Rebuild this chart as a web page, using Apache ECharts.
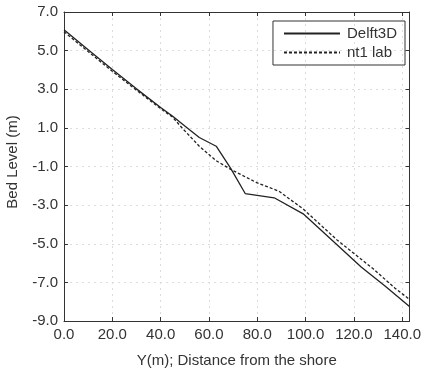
<!DOCTYPE html>
<html>
<head>
<meta charset="utf-8">
<script src="https://cdn.jsdelivr.net/npm/echarts@6/dist/echarts.min.js"></script>
<style>html,body{margin:0;padding:0;background:#fff;}#c{width:424px;height:373px;}</style>
</head>
<body>
<div id="c"></div>
<script>
const xTicks = [0, 20, 40, 60, 80, 100, 120, 140];
const yTicks = [7, 5, 3, 1, -1, -3, -5, -7, -9];
const delft3d = [[0,6.08],[10,5.05],[20,4.02],[30,3.02],[40,2.05],[45,1.6],[50,1.1],[56,0.5],[63,0.05],[69,-1.1],[75,-2.4],[87,-2.62],[99,-3.45],[113,-5.05],[123,-6.2],[133,-7.2],[143,-8.25]];
const nt1lab = [[0,5.98],[10,4.95],[20,3.93],[30,2.95],[40,2.0],[45,1.55],[49,0.98],[56,0.05],[63,-0.7],[69,-1.15],[80,-1.85],[89,-2.28],[99,-3.2],[113,-4.8],[128,-6.3],[137,-7.3],[143,-7.88]];

const font = 'Liberation Sans, Arial, sans-serif';
const chart = echarts.init(document.getElementById('c'));
const axisLine = {show: true, onZero: false, lineStyle: {color: '#333', width: 1}};
const tickIn = {show: true, inside: true, length: 4, lineStyle: {color: '#333'}};
chart.setOption({
  animation: false,
  grid: {left: 64, right: 11, top: 12, bottom: 43, containLabel: false},
  xAxis: [{
    type: 'value', min: 0, max: 143, interval: 20,
    axisLine: axisLine, axisTick: tickIn,
    axisLabel: {color: '#333', fontFamily: font, fontSize: 15, margin: 6, showMaxLabel: false,
      formatter: v => v.toFixed(1)},
    splitLine: {show: true, lineStyle: {color: '#dcdcdc', type: [2, 4], width: 1}},
    name: 'Y(m); Distance from the shore', nameLocation: 'middle', nameGap: 32,
    nameTextStyle: {color: '#333', fontFamily: font, fontSize: 15}
  }, {
    type: 'value', position: 'top', min: 0, max: 143, interval: 20,
    axisLine: axisLine, axisTick: tickIn, axisLabel: {show: false}, splitLine: {show: false}
  }],
  yAxis: [{
    type: 'value', min: -9, max: 7, interval: 2,
    axisLine: axisLine, axisTick: tickIn,
    axisLabel: {color: '#333', fontFamily: font, fontSize: 15, margin: 6,
      formatter: v => v.toFixed(1)},
    splitLine: {show: true, lineStyle: {color: '#dcdcdc', type: [2, 4], width: 1}}
  }, {
    type: 'value', position: 'right', min: -9, max: 7, interval: 2,
    axisLine: axisLine, axisTick: tickIn, axisLabel: {show: false}, splitLine: {show: false}
  }],
  graphic: [{
    type: 'text', x: 13, y: 162, rotation: Math.PI / 2,
    style: {text: 'Bed Level (m)', fill: '#333', font: '15px ' + font, align: 'center', verticalAlign: 'middle'}
  }],
  legend: {
    orient: 'vertical', right: 19, top: 21, width: 132,
    borderColor: '#333', borderWidth: 1, padding: [5, 8, 5, 10],
    itemGap: 4, itemWidth: 56, itemHeight: 14,
    itemStyle: {opacity: 0},
    textStyle: {color: '#333', fontFamily: font, fontSize: 15, padding: [0, 0, 0, 2]},
    data: ['Delft3D', 'nt1 lab']
  },
  series: [{
    name: 'Delft3D', type: 'line', data: delft3d, symbol: 'none',
    lineStyle: {color: '#222', width: 1.3, type: 'solid'}, itemStyle: {color: '#222'}
  }, {
    name: 'nt1 lab', type: 'line', data: nt1lab, symbol: 'none',
    lineStyle: {color: '#222', width: 1.3, type: [3, 2]}, itemStyle: {color: '#222'}
  }]
});
</script>
</body>
</html>
